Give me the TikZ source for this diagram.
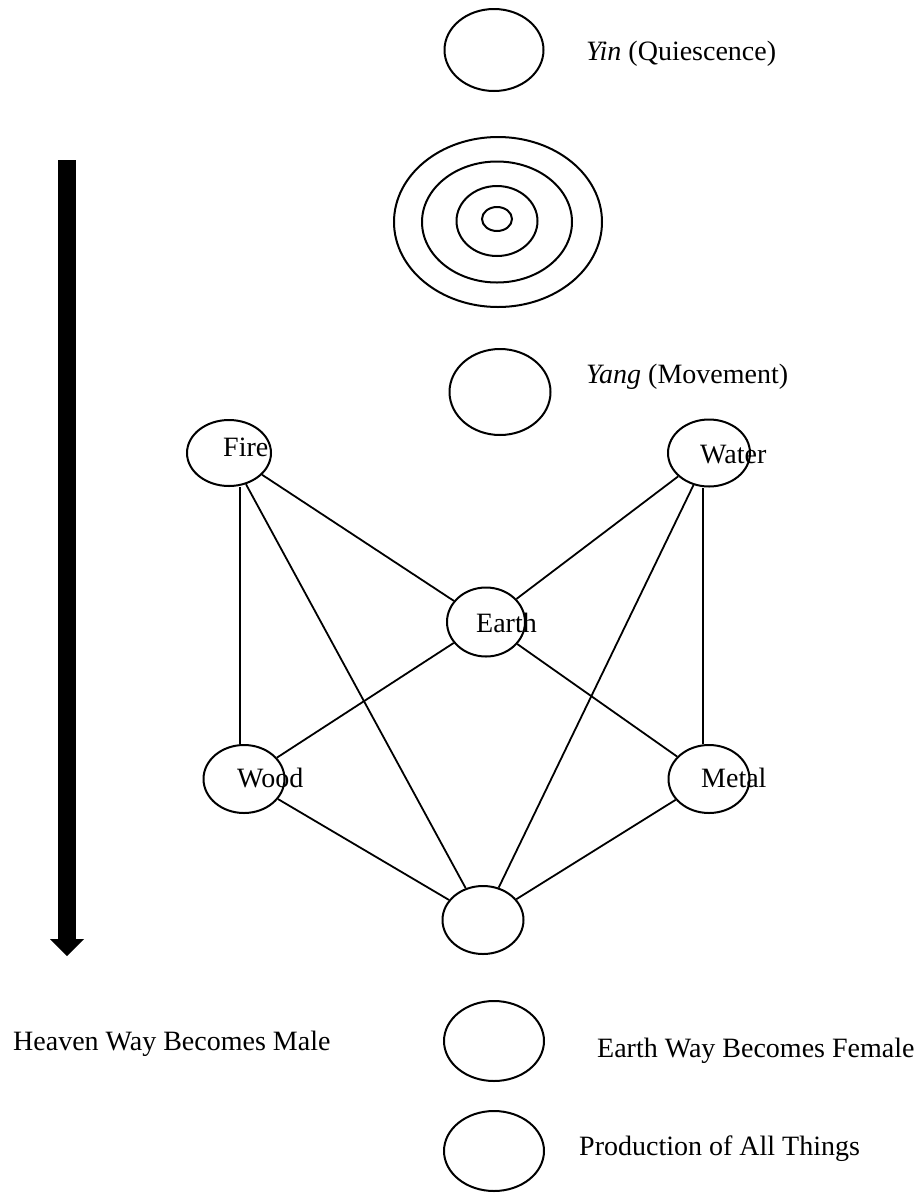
\documentclass[tikz,border=0pt]{standalone}
\usepackage{fontspec}
\setmainfont{Liberation Serif}
\usetikzlibrary{shapes.geometric}
\begin{document}
\begin{tikzpicture}[x=1pt,y=-1pt,
  orb/.style={draw, ellipse, line width=2pt, inner sep=0pt},
  link/.style={line width=1.8pt},
  lbl/.style={anchor=base west, inner sep=0pt, font=\fontsize{28}{34}\selectfont}]
\useasboundingbox (0,0) rectangle (922,1195);

% descending arrow on the left
\coordinate (arrtop) at (67,160);
\coordinate (arrtip) at (67,956);
\fill (58,160) rectangle (76,940);
\fill (50,939) -- (84,939) -- (arrtip) -- cycle;

% yin
\node[orb, minimum width=99pt, minimum height=82pt] (yin) at (494,50) {};
\node[lbl] (yintxt) at (586,60) {\textit{Yin} (Quiescence)};

% concentric rings
\node[orb, minimum width=208pt, minimum height=170pt] (ring1) at (498,222) {};
\node[orb, minimum width=150pt, minimum height=121pt] (ring2) at (497,222) {};
\node[orb, minimum width=81pt, minimum height=70pt] (ring3) at (497,221) {};
\node[orb, minimum width=30pt, minimum height=24pt] (ring4) at (497,219) {};

% yang
\node[orb, minimum width=101pt, minimum height=86pt] (yang) at (500,392) {};
\node[lbl] (yangtxt) at (586,383) {\textit{Yang} (Movement)};

% five elements
\node[orb, minimum width=84pt, minimum height=66pt] (fire) at (229,453) {};
\node[orb, minimum width=82pt, minimum height=67pt] (water) at (709,453) {};
\node[orb, minimum width=78pt, minimum height=69pt] (earth) at (486,622) {};
\node[orb, minimum width=81pt, minimum height=68pt] (wood) at (244,779) {};
\node[orb, minimum width=81pt, minimum height=68pt] (metal) at (709,779) {};
\node[orb, minimum width=81pt, minimum height=68pt] (base) at (483,920) {};

\node[lbl] (firetxt) at (223,456) {Fire};
\node[lbl] (watertxt) at (700,463) {Water};
\node[lbl] (earthtxt) at (476,632) {Earth};
\node[lbl] (woodtxt) at (237,787) {Wood};
\node[lbl] (metaltxt) at (701,787) {Metal};

% connections
\draw[link] ([xshift=-4pt]wood.north) -- ([xshift=-4pt]wood.north |- fire.south);
\draw[link] ([xshift=-6pt]metal.north) -- ([xshift=-6pt]metal.north |- water.south);
\draw[link] (fire) -- (earth);
\draw[link] (fire) -- (base);
\draw[link] (water) -- (earth);
\draw[link] (water) -- (base);
\draw[link] (earth) -- (wood);
\draw[link] (earth) -- (metal);
\draw[link] (wood) -- (base);
\draw[link] (metal) -- (base);

% final stages
\node[orb, minimum width=100pt, minimum height=80pt] (female) at (494,1041) {};
\node[orb, minimum width=100pt, minimum height=80pt] (things) at (494,1151) {};
\node[lbl] (maletxt) at (13,1050) {Heaven Way Becomes Male};
\node[lbl] (femaletxt) at (597,1057) {Earth Way Becomes Female};
\node[lbl] (thingstxt) at (579,1155) {Production of All Things};
\end{tikzpicture}
\end{document}
